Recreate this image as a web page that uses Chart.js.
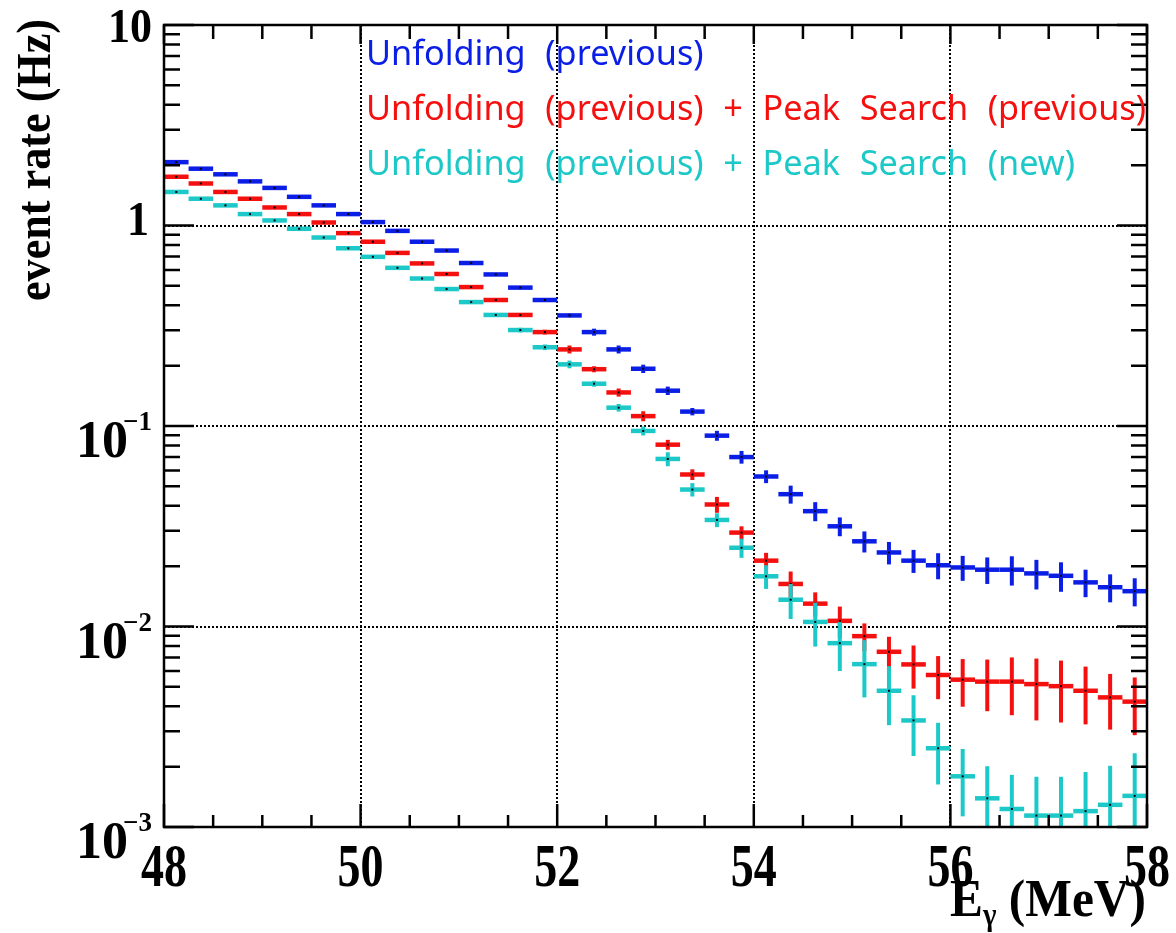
<!DOCTYPE html>
<html>
<head>
<meta charset="UTF-8" />
<script src="https://cdn.jsdelivr.net/npm/chart.js"></script>
<style>
  body { margin: 0; background: #fff; }
  #wrap { width: 1176px; height: 933px; position: relative; }
</style>
</head>
<body>
<div id="wrap"><canvas id="rateChart"></canvas></div>
<script>
// bin centres of E_gamma (MeV), bins are 0.25 MeV wide
const energy = [48.125, 48.375, 48.625, 48.875, 49.125, 49.375, 49.625, 49.875, 50.125, 50.375,
  50.625, 50.875, 51.125, 51.375, 51.625, 51.875, 52.125, 52.375, 52.625, 52.875,
  53.125, 53.375, 53.625, 53.875, 54.125, 54.375, 54.625, 54.875, 55.125, 55.375,
  55.625, 55.875, 56.125, 56.375, 56.625, 56.875, 57.125, 57.375, 57.625, 57.875];
const binWidth = 0.25;

// Unfolding (previous)
const ratePrev = [2.07, 1.92, 1.80, 1.66, 1.54, 1.39, 1.26, 1.14, 1.04, 0.94,
  0.83, 0.75, 0.65, 0.57, 0.49, 0.425, 0.356, 0.294, 0.241, 0.193,
  0.150, 0.118, 0.0895, 0.070, 0.056, 0.0457, 0.0376, 0.0316, 0.0266, 0.0234,
  0.0213, 0.0202, 0.0197, 0.0192, 0.0192, 0.0184, 0.0179, 0.0166, 0.0157, 0.0150];
const errPrev = [0.01, 0.01, 0.01, 0.01, 0.01, 0.01, 0.01, 0.01, 0.01, 0.008,
  0.007, 0.006, 0.005, 0.005, 0.005, 0.005, 0.0071, 0.0118, 0.011, 0.0092,
  0.0072, 0.005, 0.0051, 0.0051, 0.0041, 0.0047, 0.0041, 0.0034, 0.0032, 0.0030,
  0.0028, 0.0030, 0.0028, 0.0029, 0.0032, 0.0031, 0.0030, 0.0026, 0.0025, 0.0024];

// Unfolding (previous) + Peak Search (previous)
const ratePeakPrev = [1.75, 1.62, 1.47, 1.36, 1.23, 1.14, 1.035, 0.916, 0.83, 0.73,
  0.647, 0.573, 0.493, 0.425, 0.358, 0.294, 0.241, 0.192, 0.147, 0.112,
  0.0807, 0.0573, 0.0406, 0.0294, 0.0213, 0.0163, 0.0130, 0.01067, 0.00895, 0.00748,
  0.00647, 0.00573, 0.00543, 0.00531, 0.00531, 0.00516, 0.00504, 0.00478, 0.00443, 0.00422];
const errPeakPrev = [0.015, 0.014, 0.013, 0.012, 0.011, 0.01, 0.009, 0.008, 0.007, 0.0065,
  0.006, 0.006, 0.006, 0.006, 0.007, 0.008, 0.011, 0.0066, 0.0068, 0.0064,
  0.0046, 0.0035, 0.0037, 0.0022, 0.0020, 0.0025, 0.0018, 0.0019, 0.00141, 0.00141,
  0.00157, 0.00139, 0.00145, 0.00153, 0.0017, 0.00176, 0.00172, 0.00153, 0.00137, 0.00135];

// Unfolding (previous) + Peak Search (new)
const ratePeakNew = [1.47, 1.36, 1.26, 1.14, 1.06, 0.963, 0.871, 0.77, 0.698, 0.615,
  0.544, 0.482, 0.415, 0.358, 0.301, 0.247, 0.203, 0.1625, 0.1234, 0.0945,
  0.0685, 0.0482, 0.034, 0.0247, 0.0178, 0.0136, 0.01054, 0.00826, 0.00649, 0.00478,
  0.0034, 0.00247, 0.00179, 0.00139, 0.00123, 0.00114, 0.00114, 0.0012, 0.00129, 0.00143];
const errPeakNew = [0.01, 0.01, 0.01, 0.01, 0.01, 0.01, 0.009, 0.008, 0.008, 0.008,
  0.008, 0.008, 0.008, 0.008, 0.008, 0.008, 0.009, 0.0055, 0.0054, 0.0048,
  0.0055, 0.0037, 0.0027, 0.0027, 0.0024, 0.0027, 0.0026, 0.00226, 0.00206, 0.00156,
  0.00114, 0.00084, 0.00066, 0.00062, 0.00059, 0.00064, 0.00064, 0.00068, 0.00073, 0.0009];

const legendLabels = ['Unfolding (previous)',
  'Unfolding (previous) + Peak Search (previous)',
  'Unfolding (previous) + Peak Search (new)'];
const seriesColors = ['#0a1ee6', '#f51010', '#1cc8c8'];

const xTickLabels = [48, 50, 52, 54, 56, 58];
const yDecades = [0.001, 0.01, 0.1, 1, 10];
const yTitle = 'event rate (Hz)';

const toPoints = (vals, errs) => vals.map((v, i) => ({ x: energy[i], y: v, err: errs[i] }));

const isDecade = (v) => Math.abs(Math.log10(v) - Math.round(Math.log10(v))) < 1e-6;
const isXMajor = (v) => xTickLabels.includes(v);

// stretched text helper (the original labels are taller than normal)
function stretchText(ctx, txt, x, y, sy, align) {
  ctx.save();
  ctx.translate(x, y);
  ctx.scale(1, sy);
  ctx.textAlign = align;
  ctx.fillText(txt, 0, 0);
  ctx.restore();
}

const errorBars = {
  id: 'errorBars',
  afterDatasetsDraw(chart) {
    const { ctx, chartArea: a, scales: { x, y } } = chart;
    ctx.save();
    ctx.beginPath();
    ctx.rect(a.left, a.top, a.right - a.left, a.bottom - a.top);
    ctx.clip();
    chart.data.datasets.forEach((ds) => {
      ctx.strokeStyle = ds.borderColor;
      ds.data.forEach((p) => {
        const px = x.getPixelForValue(p.x);
        const py = y.getPixelForValue(p.y);
        ctx.lineWidth = 4.5;
        ctx.beginPath();
        ctx.moveTo(x.getPixelForValue(p.x - binWidth / 2), py);
        ctx.lineTo(x.getPixelForValue(p.x + binWidth / 2), py);
        ctx.stroke();
        const hi = y.getPixelForValue(p.y + p.err);
        const lo = p.y - p.err > 0 ? y.getPixelForValue(p.y - p.err) : a.bottom + 20;
        ctx.lineWidth = 4;
        ctx.beginPath();
        ctx.moveTo(px, hi);
        ctx.lineTo(px, lo);
        ctx.stroke();
        ctx.fillStyle = '#000';
        ctx.fillRect(px - 1, py - 1, 2, 2);
      });
    });
    ctx.restore();
  }
};

const frameAndLabels = {
  id: 'frameAndLabels',
  afterDraw(chart) {
    const { ctx, chartArea: a, scales: { x, y } } = chart;
    ctx.save();
    ctx.strokeStyle = '#000';
    ctx.fillStyle = '#000';

    // inward ticks on all four sides
    ctx.lineWidth = 2.5;
    ctx.beginPath();
    y.ticks.forEach((t) => {
      const py = y.getPixelForValue(t.value);
      const len = isDecade(t.value) ? 30 : 16;
      ctx.moveTo(a.left, py); ctx.lineTo(a.left + len, py);
      ctx.moveTo(a.right, py); ctx.lineTo(a.right - len, py);
    });
    x.ticks.forEach((t) => {
      const px = x.getPixelForValue(t.value);
      const major = isXMajor(t.value);
      ctx.moveTo(px, a.bottom); ctx.lineTo(px, a.bottom - (major ? 23 : 12));
      ctx.moveTo(px, a.top); ctx.lineTo(px, a.top + (major ? 19 : 14));
    });
    ctx.stroke();

    ctx.lineWidth = 2.5;
    ctx.strokeRect(a.left, a.top, a.right - a.left, a.bottom - a.top);

    // x tick labels
    ctx.font = 'bold 46px "Liberation Serif"';
    x.ticks.filter((t) => isXMajor(t.value)).forEach((t) => {
      stretchText(ctx, String(t.value), x.getPixelForValue(t.value), 886, 1.35, 'center');
    });

    // y tick labels, ROOT style 10^n
    y.ticks.filter((t) => isDecade(t.value)).forEach((t) => {
      const k = Math.round(Math.log10(t.value));
      const ty = y.getPixelForValue(t.value);
      if (k === 1) {
        ctx.font = 'bold 44px "Liberation Serif"';
        stretchText(ctx, '10', 152, ty + 17, 1.08, 'right');
      } else if (k === 0) {
        ctx.font = 'bold 44px "Liberation Serif"';
        stretchText(ctx, '1', 149, ty + 9, 1.08, 'right');
      } else {
        ctx.font = 'bold 52px "Liberation Serif"';
        stretchText(ctx, '10', 128, ty + 31, 1.0, 'right');
        ctx.font = 'bold 27px "Liberation Serif"';
        stretchText(ctx, '\u2212' + (-k), 152, ty + 4, 1.0, 'right');
      }
    });

    // y axis title
    ctx.save();
    ctx.font = 'bold 48px "Liberation Serif"';
    const tw = ctx.measureText(yTitle).width;
    ctx.translate(50, 160);
    ctx.rotate(-Math.PI / 2);
    ctx.scale(282 / tw, 1);
    ctx.textAlign = 'center';
    ctx.fillText(yTitle, 0, 0);
    ctx.restore();

    // x axis title  E_gamma (MeV)
    ctx.save();
    ctx.font = 'bold 48px "Liberation Serif"';
    const wE = ctx.measureText('E').width;
    const wRest = ctx.measureText(' (MeV)').width;
    ctx.font = 'bold 28px "Liberation Serif"';
    const wG = ctx.measureText('\u03b3').width;
    const sx = (1146 - 950) / (wE + wG + wRest);
    ctx.translate(950, 916);
    ctx.scale(sx, 1.12);
    ctx.textAlign = 'left';
    ctx.font = 'bold 48px "Liberation Serif"';
    ctx.fillText('E', 0, 0);
    ctx.fillText(' (MeV)', wE + wG, 0);
    ctx.font = 'bold 28px "Liberation Serif"';
    ctx.fillText('\u03b3', wE, 8);
    ctx.restore();

    // legend text
    ctx.save();
    ctx.font = '35px "Noto Sans"';
    ctx.wordSpacing = '11px';
    const lsx = (1146 - 366) / ctx.measureText(legendLabels[1]).width;
    const baselines = [65, 120, 175];
    legendLabels.forEach((lab, i) => {
      ctx.save();
      ctx.fillStyle = seriesColors[i];
      ctx.translate(366, baselines[i]);
      ctx.scale(lsx, 1);
      ctx.textAlign = 'left';
      ctx.fillText(lab, 0, 0);
      ctx.restore();
    });
    ctx.restore();

    ctx.restore();
  }
};

const gridColor = (c, test) => {
  const v = c.tick ? c.tick.value : null;
  return v !== null && test(v) ? '#000' : 'rgba(0,0,0,0)';
};

new Chart(document.getElementById('rateChart'), {
  type: 'scatter',
  data: {
    datasets: [
      { label: legendLabels[0], data: toPoints(ratePrev, errPrev), borderColor: seriesColors[0], backgroundColor: seriesColors[0] },
      { label: legendLabels[1], data: toPoints(ratePeakPrev, errPeakPrev), borderColor: seriesColors[1], backgroundColor: seriesColors[1] },
      { label: legendLabels[2], data: toPoints(ratePeakNew, errPeakNew), borderColor: seriesColors[2], backgroundColor: seriesColors[2] }
    ]
  },
  options: {
    responsive: true,
    maintainAspectRatio: false,
    animation: false,
    events: [],
    elements: { point: { radius: 0 } },
    layout: { padding: { left: 164, right: 29, top: 25, bottom: 106 } },
    plugins: { legend: { display: false }, tooltip: { enabled: false } },
    scales: {
      x: {
        type: 'linear',
        min: 48,
        max: 58,
        ticks: { display: false, stepSize: 0.5 },
        grid: {
          drawTicks: false,
          lineWidth: 2,
          color: (c) => gridColor(c, (v) => isXMajor(v) && v !== 48 && v !== 58)
        },
        border: { display: false, dash: [2, 2] }
      },
      y: {
        type: 'logarithmic',
        min: 0.001,
        max: 10,
        afterBuildTicks: (scale) => {
          const vals = [];
          yDecades.forEach((d, i) => {
            vals.push(d);
            if (i < yDecades.length - 1) {
              for (let m = 2; m <= 9; m++) vals.push(+(d * m).toPrecision(3));
            }
          });
          scale.ticks = vals.map((v) => ({ value: v }));
        },
        ticks: { display: false },
        grid: {
          drawTicks: false,
          lineWidth: 2,
          color: (c) => gridColor(c, (v) => isDecade(v) && v !== 0.001 && v !== 10)
        },
        border: { display: false, dash: [2, 2] }
      }
    }
  },
  plugins: [errorBars, frameAndLabels]
});
</script>
</body>
</html>
